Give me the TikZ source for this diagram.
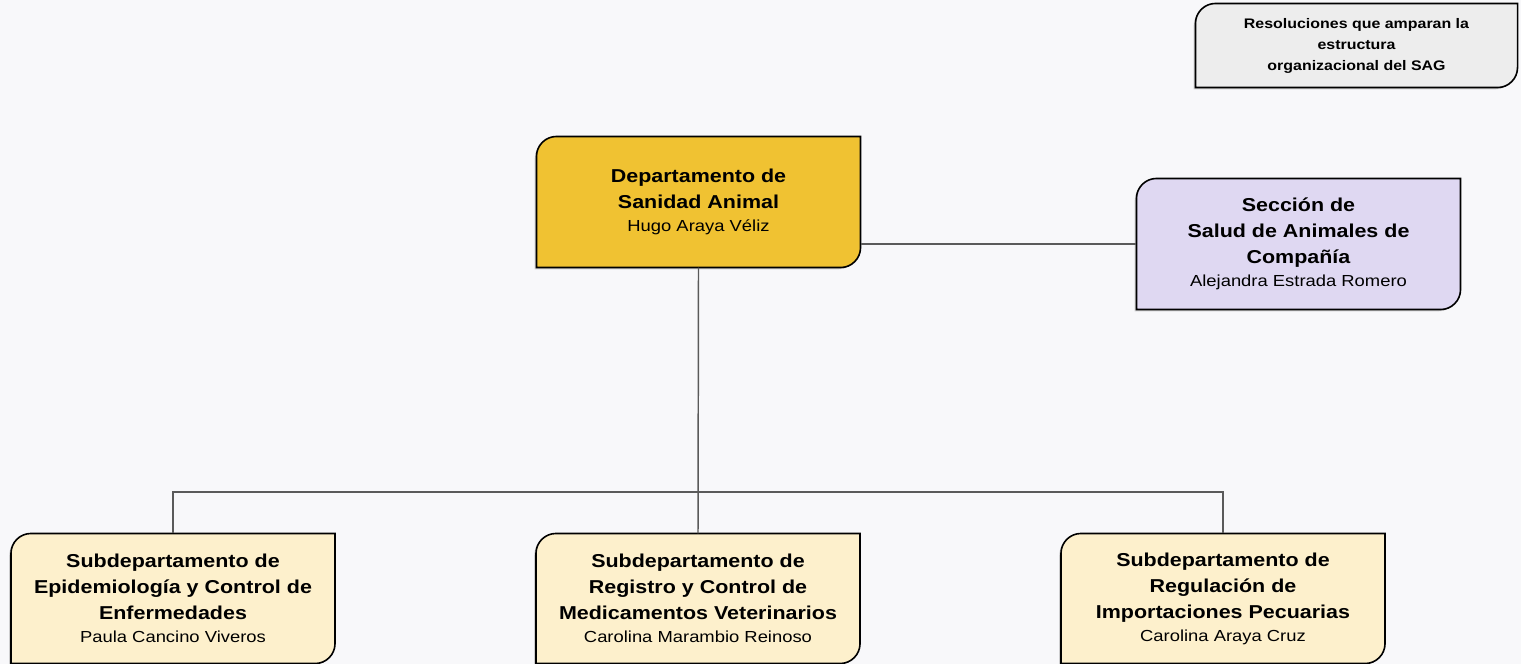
\documentclass[tikz,border=0pt]{standalone}
\usepackage{fontspec}
\setmainfont{Liberation Sans}[FakeStretch=1.15]
\usetikzlibrary{positioning, calc, backgrounds, shadows}

\definecolor{deptgold}{HTML}{F0C232}
\definecolor{seclavender}{HTML}{DFD8F2}
\definecolor{subcream}{HTML}{FDF0CC}
\definecolor{notegray}{HTML}{EDEDED}
\definecolor{linkgray}{HTML}{5A5A5A}
\definecolor{pagebg}{HTML}{F8F8FA}

\newcommand{\boxtitle}{\fontsize{14}{19.5}\selectfont\bfseries}
\newcommand{\boxname}[1]{\\[-2.25pt]{\fontsize{12}{14}\selectfont\mdseries #1}}

\begin{document}
\begin{tikzpicture}[
    x=0.75pt, y=0.75pt,
    line width=0.8pt,
    box/.style={inner sep=0pt, align=center, font=\boxtitle, minimum width=242.25pt, minimum height=97.5pt},
    subbox/.style={box, minimum height=96.75pt},
    link/.style={draw=linkgray, line width=1.1pt},
    frame/.style={draw=black, line width=1.2pt, drop shadow={shadow xshift=-1.3pt, shadow yshift=-1.3pt, opacity=0.35}}
]{
    \useasboundingbox (0,0) rectangle (1521,-664);

    \node[box, minimum width=240.75pt, minimum height=62.25pt, font=\fontsize{10.4}{15.75}\selectfont\bfseries](resoluciones) at (1356.5,-45.5){Resoluciones que amparan la\\estructura\\organizacional del SAG};

    \node[box](departamento) at (698.5,-202){Departamento de\\Sanidad Animal\boxname{Hugo Araya Véliz}};
    \node[box](seccion) at (1298.5,-244){Sección de\\Salud de Animales de\\Compañía\boxname{Alejandra Estrada Romero}};

    % Subdepartamentos
    \node[subbox](epidemiologia) at (173,-598.5){Subdepartamento de\\Epidemiología y Control de\\Enfermedades\boxname{Paula Cancino Viveros}};
    \node[subbox](registro) at (698,-598.5){Subdepartamento de\\Registro y Control de\\Medicamentos Veterinarios\boxname{Carolina Marambio Reinoso}};
    \node[subbox](importaciones) at (1223,-598.5){Subdepartamento de\\Regulación de\\Importaciones Pecuarias\boxname{Carolina Araya Cruz}};

    \begin{scope}[on background layer]
        \fill[pagebg] (0,0) rectangle (1521,-664);
        \foreach \n/\c in {resoluciones/notegray, departamento/deptgold, seccion/seclavender, epidemiologia/subcream, registro/subcream, importaciones/subcream}
            \draw[frame, fill=\c] ([yshift=-15pt]\n.north west) arc[start angle=180, end angle=90, radius=15pt] -- (\n.north east) -- ([yshift=15pt]\n.south east) arc[start angle=0, end angle=-90, radius=15pt] -- (\n.south west) -- cycle;
    \end{scope}

    \coordinate (bus) at (0,-492);

    \draw[link](seccion.west) -- (seccion.west -| departamento.east);
    \draw[link](departamento.south) -- (registro.north);
    \draw[link](epidemiologia.north) -- (epidemiologia.north |- bus) -- (importaciones.north |- bus) -- (importaciones.north);
}
\end{tikzpicture}
\end{document}
